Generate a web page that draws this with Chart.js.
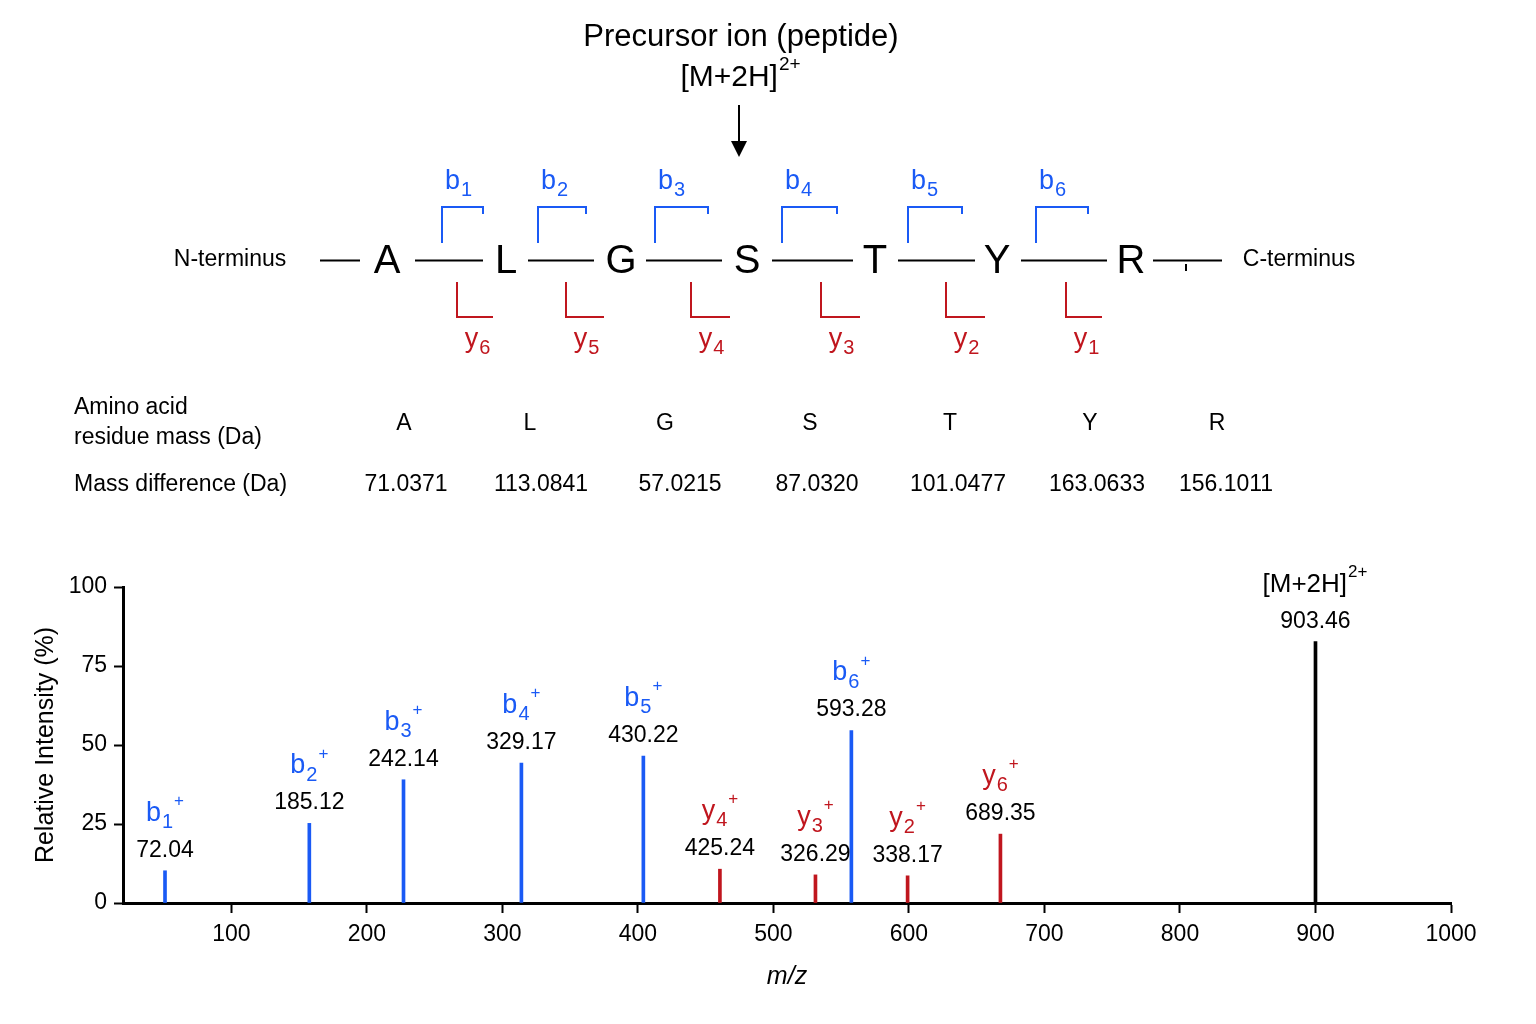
<!DOCTYPE html>
<html>
<head>
<meta charset="utf-8">
<title>Peptide fragmentation spectrum</title>
<script src="https://cdn.jsdelivr.net/npm/chart.js@4.4.1/dist/chart.umd.min.js"></script>
<style>
  html, body { margin: 0; padding: 0; background: #fff; }
  #wrap { width: 1536px; height: 1024px; position: relative; }
</style>
</head>
<body>
<div id="wrap"><canvas id="spectrum" width="1536" height="1024"></canvas></div>
<script>
// peptide sequence and residue masses
const residues = ['A', 'L', 'G', 'S', 'T', 'Y', 'R'];
const residueMass = ['71.0371', '113.0841', '57.0215', '87.0320', '101.0477', '163.0633', '156.1011'];
const bIons = ['1', '2', '3', '4', '5', '6'];
const yIons = ['6', '5', '4', '3', '2', '1'];

// spectrum peaks
const peakType = ['b', 'b', 'b', 'b', 'b', 'y', 'y', 'b', 'y', 'y', 'M'];
const peakSub = ['1', '2', '3', '4', '5', '4', '3', '6', '2', '6', ''];
const peakCharge = ['+', '+', '+', '+', '+', '+', '+', '+', '+', '+', '2+'];
const peakLabel = ['72.04', '185.12', '242.14', '329.17', '430.22', '425.24', '326.29', '593.28', '338.17', '689.35', '903.46'];
const peakMz = [51, 157.5, 227, 314, 404, 460.5, 531, 557.5, 599, 667.5, 900];
const peakIntensity = [10.2, 25.2, 39, 44.3, 46.5, 10.7, 8.9, 54.6, 8.6, 21.8, 82.7];

const xTicks = [100, 200, 300, 400, 500, 600, 700, 800, 900, 1000];
const yTicks = [0, 25, 50, 75, 100];

const BLUE = '#1a5af5';
const RED = '#c0161e';
const FONT = '"Liberation Sans", Arial, Helvetica, sans-serif';

function typeColor(t) {
    if (t === 'b') return BLUE;
    if (t === 'y') return RED;
    return '#000';
}

// text with optional subscript and superscript, centred on cx
function drawIon(ctx, cx, baseY, main, sub, sup, color, size) {
    const mainFont = size + 'px ' + FONT;
    const subFont = Math.round(size * 0.74) + 'px ' + FONT;
    const supFont = Math.round(size * 0.64) + 'px ' + FONT;
    ctx.font = mainFont;
    const wMain = ctx.measureText(main).width;
    ctx.font = subFont;
    const wSub = sub ? ctx.measureText(sub).width : 0;
    ctx.font = supFont;
    const wSup = sup ? ctx.measureText(sup).width + 2 : 0;
    let x = cx - (wMain + wSub + wSup) / 2;
    ctx.fillStyle = color;
    ctx.textAlign = 'left';
    ctx.textBaseline = 'alphabetic';
    ctx.font = mainFont;
    ctx.fillText(main, x, baseY);
    x += wMain;
    if (sub) {
        ctx.font = subFont;
        ctx.fillText(sub, x + 1, baseY + size * 0.27);
        x += wSub + 1;
    }
    if (sup) {
        ctx.font = supFont;
        ctx.fillText(sup, x + 1, baseY - size * 0.55);
    }
}

function plainText(ctx, txt, x, y, size, align, color, style) {
    ctx.font = (style || '') + ' ' + size + 'px ' + FONT;
    ctx.fillStyle = color || '#000';
    ctx.textAlign = align || 'center';
    ctx.textBaseline = 'middle';
    ctx.fillText(txt, x, y);
}

// top diagram: precursor, sequence, fragment brackets, mass table
const diagramPlugin = {
    id: 'diagram',
    afterDraw(chart) {
        const ctx = chart.ctx;
        ctx.save();

        plainText(ctx, 'Precursor ion (peptide)', 741, 37, 31);
        drawIon(ctx, 741, 86, '[M+2H]', '', '2+', '#000', 30);

        // arrow
        ctx.strokeStyle = '#000';
        ctx.lineWidth = 2;
        ctx.beginPath();
        ctx.moveTo(739, 105);
        ctx.lineTo(739, 142);
        ctx.stroke();
        ctx.fillStyle = '#000';
        ctx.beginPath();
        ctx.moveTo(731, 141);
        ctx.lineTo(747, 141);
        ctx.lineTo(739, 157);
        ctx.closePath();
        ctx.fill();

        plainText(ctx, 'N-terminus', 230, 260, 23);
        plainText(ctx, 'C-terminus', 1299, 260, 23);

        const letterX = [387, 506, 621, 747, 875, 997, 1131];
        residues.forEach((r, i) => plainText(ctx, r, letterX[i], 262, 40));

        const bonds = [[320, 360], [415, 483], [528, 594], [646, 722], [772, 853], [898, 975], [1021, 1107], [1153, 1222]];
        ctx.lineWidth = 2;
        ctx.strokeStyle = '#000';
        bonds.forEach(b => {
            ctx.beginPath();
            ctx.moveTo(b[0], 260.5);
            ctx.lineTo(b[1], 260.5);
            ctx.stroke();
        });
        ctx.beginPath();
        ctx.moveTo(1186, 264);
        ctx.lineTo(1186, 271);
        ctx.stroke();

        const bBr = [[442, 483], [538, 586], [655, 708], [782, 837], [908, 962], [1036, 1088]];
        ctx.strokeStyle = BLUE;
        bBr.forEach((b, i) => {
            ctx.beginPath();
            ctx.moveTo(b[0], 243);
            ctx.lineTo(b[0], 207);
            ctx.lineTo(b[1], 207);
            ctx.lineTo(b[1], 214);
            ctx.stroke();
            drawIon(ctx, b[0] + 16, 189, 'b', bIons[i], '', BLUE, 27);
        });

        const yBr = [[457, 493], [566, 604], [691, 730], [821, 860], [946, 985], [1066, 1102]];
        ctx.strokeStyle = RED;
        yBr.forEach((b, i) => {
            ctx.beginPath();
            ctx.moveTo(b[0], 282);
            ctx.lineTo(b[0], 317);
            ctx.lineTo(b[1], 317);
            ctx.stroke();
            drawIon(ctx, b[0] + 20, 347, 'y', yIons[i], '', RED, 27);
        });

        // mass table
        plainText(ctx, 'Amino acid', 74, 408, 23, 'left');
        plainText(ctx, 'residue mass (Da)', 74, 438, 23, 'left');
        plainText(ctx, 'Mass difference (Da)', 74, 485, 23, 'left');
        const colLetter = [404, 530, 665, 810, 950, 1090, 1217];
        const colMass = [406, 541, 680, 817, 958, 1097, 1226];
        residues.forEach((r, i) => {
            plainText(ctx, r, colLetter[i], 424, 23);
            plainText(ctx, residueMass[i], colMass[i], 485, 23);
        });

        ctx.restore();
    }
};

// labels above each peak
const peakLabelPlugin = {
    id: 'peakLabels',
    afterDatasetsDraw(chart) {
        const ctx = chart.ctx;
        const meta = chart.getDatasetMeta(0);
        ctx.save();
        meta.data.forEach((bar, i) => {
            const x = bar.x;
            const top = bar.y;
            const t = peakType[i];
            const main = t === 'M' ? '[M+2H]' : t;
            drawIon(ctx, x, top - 50, main, peakSub[i], peakCharge[i], typeColor(t), t === 'M' ? 26 : 27);
            ctx.font = '23px ' + FONT;
            ctx.fillStyle = '#000';
            ctx.textAlign = 'center';
            ctx.textBaseline = 'alphabetic';
            ctx.fillText(peakLabel[i], x, top - 14);
        });
        ctx.restore();
    }
};

Chart.defaults.font.family = FONT;
Chart.defaults.color = '#000';

new Chart(document.getElementById('spectrum').getContext('2d'), {
    type: 'bar',
    data: {
        datasets: [{
            data: peakMz.map((mz, i) => ({ x: mz, y: peakIntensity[i] })),
            backgroundColor: peakType.map(typeColor),
            barThickness: 3,
            borderWidth: 0
        }]
    },
    options: {
        responsive: false,
        animation: false,
        layout: { padding: { left: 0, right: 85, top: 587, bottom: 0 } },
        plugins: {
            legend: { display: false },
            tooltip: { enabled: false }
        },
        scales: {
            x: {
                type: 'linear',
                offset: false,
                min: 20,
                max: 1000,
                afterBuildTicks: axis => { axis.ticks = xTicks.map(v => ({ value: v })); },
                afterFit: axis => { axis.height = 121; },
                grid: { offset: false, drawOnChartArea: false, tickLength: 10, tickWidth: 2, tickColor: '#000' },
                border: { color: '#000', width: 3 },
                ticks: { font: { size: 23 }, padding: 8, maxRotation: 0, callback: v => String(v) },
                title: {
                    display: true,
                    text: 'm/z',
                    font: { size: 25, style: 'italic' },
                    padding: { top: 0, bottom: 32 }
                }
            },
            y: {
                min: 0,
                max: 100,
                afterBuildTicks: axis => { axis.ticks = yTicks.map(v => ({ value: v })); },
                afterFit: axis => { axis.width = 123; },
                grid: { drawOnChartArea: false, tickLength: 9, tickWidth: 2, tickColor: '#000' },
                border: { color: '#000', width: 3 },
                ticks: { font: { size: 23 }, padding: 7 },
                title: {
                    display: true,
                    text: 'Relative Intensity (%)',
                    font: { size: 25 },
                    padding: { top: 31, bottom: 0 }
                }
            }
        }
    },
    plugins: [diagramPlugin, peakLabelPlugin]
});
</script>
</body>
</html>
